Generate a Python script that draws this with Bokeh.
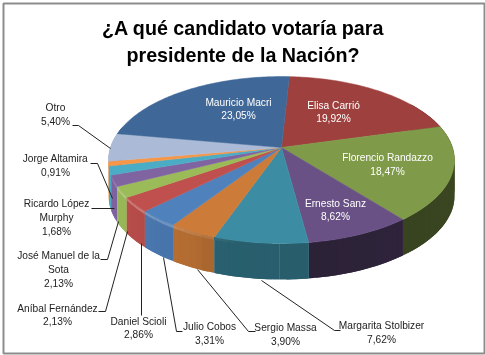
import numpy as np
from bokeh.plotting import figure
from bokeh.core.properties import value
from bokeh.embed import file_html
from bokeh.resources import INLINE

title_lines = ["¿A qué candidato votaría para", "presidente de la Nación?"]
candidates = ["Elisa Carrió", "Florencio Randazzo", "Ernesto Sanz", "Margarita Stolbizer",
              "Sergio Massa", "Julio Cobos", "Daniel Scioli", "Aníbal Fernández",
              "José Manuel de la Sota", "Ricardo López Murphy", "Jorge Altamira", "Otro",
              "Mauricio Macri"]
shares = [19.92, 18.47, 8.62, 7.62, 3.90, 3.31, 2.86, 2.13, 2.13, 1.68, 0.91, 5.40, 23.05]
share_labels = ["19,92%", "18,47%", "8,62%", "7,62%", "3,90%", "3,31%", "2,86%", "2,13%",
                "2,13%", "1,68%", "0,91%", "5,40%", "23,05%"]
colors = ["#9E413E", "#7F9A48", "#695185", "#3C8DA3", "#CC7B38", "#4F81BD", "#C0504D",
          "#9BBB59", "#8064A2", "#4BACC6", "#F79646", "#AABAD7", "#3F6797"]

# Layout of the projection
CX, CY, R, S, K, DEPTH, START = 281.0, 147.0, 171.0, 81.6, 0.15, 36.0, 3.0


def project(a_deg, r=1.0):
    a = np.radians(a_deg)
    u, v = r * np.sin(a), r * np.cos(a)
    d = 1 + K * v
    return CX + R * u / d, CY - S * v / d


def rgb(c):
    return np.array([int(c[i:i + 2], 16) for i in (1, 3, 5)], dtype=float)


def tohex(v):
    return "#%02x%02x%02x" % tuple(int(round(x)) for x in np.clip(v, 0, 255))


def side_light(a):
    return np.interp(a, [60, 110, 172, 173, 199, 201, 215, 240, 300],
                     [.42, .46, .42, .66, .68, .86, .90, .98, 1.0])


def edge_light(a):
    return np.interp(a, [190, 215, 235, 250], [0, .22, .28, .12])


p = figure(width=485, height=355, x_range=(0, 485), y_range=(355, 0), output_backend="svg",
           toolbar_location=None, min_border=0, outline_line_color=None,
           background_fill_color="white", border_fill_color="white")
p.axis.visible = False
p.grid.visible = False
p.styles = {"position": "fixed", "left": "0px", "top": "0px"}

p.quad(left=[3], right=[484], top=[3], bottom=[353], fill_color="white",
       line_color="#8C8C8C", line_width=2)

edges = START + np.concatenate([[0], np.cumsum(shares)]) * 3.6

# Front wall in facets, painted from the back to the front; each facet overlaps the one behind it
facets = []
for i, c in enumerate(colors):
    a0, a1 = edges[i], edges[i + 1]
    lo, hi = max(a0, 55), min(a1, 285)
    if hi <= lo:
        continue
    n = max(2, int((hi - lo) / 2))
    steps = np.linspace(lo, hi, n + 1)
    width = steps[1] - steps[0]
    for s0, s1 in zip(steps[:-1], steps[1:]):
        mid = (s0 + s1) / 2
        if mid < 180:
            b0, b1 = max(lo, s0 - width), s1
        else:
            b0, b1 = s0, min(hi, s1 + width)
        facets.append((abs(mid - 180), mid, b0, b1, c))
facets.sort(key=lambda f: -f[0])

wx, wy, wc = [], [], []
for _, mid, b0, b1, c in facets:
    arc = np.linspace(b0, b1, 4)
    ax, ay = project(arc)
    wx.append(np.concatenate([ax, ax[::-1]]).tolist())
    wy.append(np.concatenate([ay, ay[::-1] + DEPTH]).tolist())
    base = rgb(c) * side_light(mid)
    wc.append(tohex(base))
    e = float(edge_light(mid))
    if e > 0:
        wx.append(np.concatenate([ax, ax[::-1]]).tolist())
        wy.append(np.concatenate([ay, ay[::-1] + 3]).tolist())
        wc.append(tohex(base * (1 - e) + 255 * e))
p.patches(wx, wy, fill_color=wc, line_color=None)

# Top face
top_x, top_y = [], []
for i in range(len(colors)):
    arc = np.linspace(edges[i], edges[i + 1], max(3, int(shares[i] * 3.6)))
    ax, ay = project(arc)
    top_x.append(np.concatenate([[CX], ax]).tolist())
    top_y.append(np.concatenate([[CY], ay]).tolist())
p.patches(top_x, top_y, fill_color=colors, line_color=colors, line_width=0.5)

# Leader lines
leaders = [
    ([72, 78, 110], [125, 125, 148]),
    ([90, 97, 112], [163, 163, 198]),
    ([91, 114], [208, 208]),
    ([100, 107, 118], [259, 259, 221]),
    ([98, 105, 127], [311, 311, 231]),
    ([141, 141], [315, 243]),
    ([182, 176, 163], [331, 331, 257]),
    ([255, 248, 197], [331, 331, 269]),
    ([340, 334, 261], [330, 330, 280]),
]
p.multi_line([l[0] for l in leaders], [l[1] for l in leaders], line_color="#222222", line_width=1)

# Text
title_font = value("Liberation Sans")
p.text([242.5, 242.5], [27.5, 54.5], text=title_lines, text_font=title_font, text_font_style="bold",
       text_font_size="19.7px", text_align="center", text_baseline="middle", text_color="#000000")

label_layout = {
    "Elisa Carrió": (333, [105, 118], "#ffffff", ["Elisa Carrió"]),
    "Florencio Randazzo": (387, [157, 171], "#ffffff", ["Florencio Randazzo"]),
    "Ernesto Sanz": (335, [203, 216], "#ffffff", ["Ernesto Sanz"]),
    "Margarita Stolbizer": (381, [325, 339], "#222222", ["Margarita Stolbizer"]),
    "Sergio Massa": (285, [327, 341], "#222222", ["Sergio Massa"]),
    "Julio Cobos": (209, [326, 340], "#222222", ["Julio Cobos"]),
    "Daniel Scioli": (138, [321, 334], "#222222", ["Daniel Scioli"]),
    "Aníbal Fernández": (57, [308, 321], "#222222", ["Aníbal Fernández"]),
    "José Manuel de la Sota": (58, [255, 269, 283], "#222222", ["José Manuel de la", "Sota"]),
    "Ricardo López Murphy": (56, [203, 217, 231], "#222222", ["Ricardo López", "Murphy"]),
    "Jorge Altamira": (55, [158, 172], "#222222", ["Jorge Altamira"]),
    "Otro": (55, [107, 121], "#222222", ["Otro"]),
    "Mauricio Macri": (238, [102, 115], "#ffffff", ["Mauricio Macri"]),
}
tx, ty, tt, tc = [], [], [], []
for name, lab in zip(candidates, share_labels):
    x, yy, col, lines = label_layout[name]
    for y, t in zip(yy, lines + [lab]):
        tx.append(x); ty.append(y - 0.5); tt.append(t); tc.append(col)
p.text(tx, ty, text=tt, text_color=tc, text_font=title_font, text_font_size="10.2px",
       text_align="center", text_baseline="middle")

open("out.html", "w").write(file_html(p, INLINE))
